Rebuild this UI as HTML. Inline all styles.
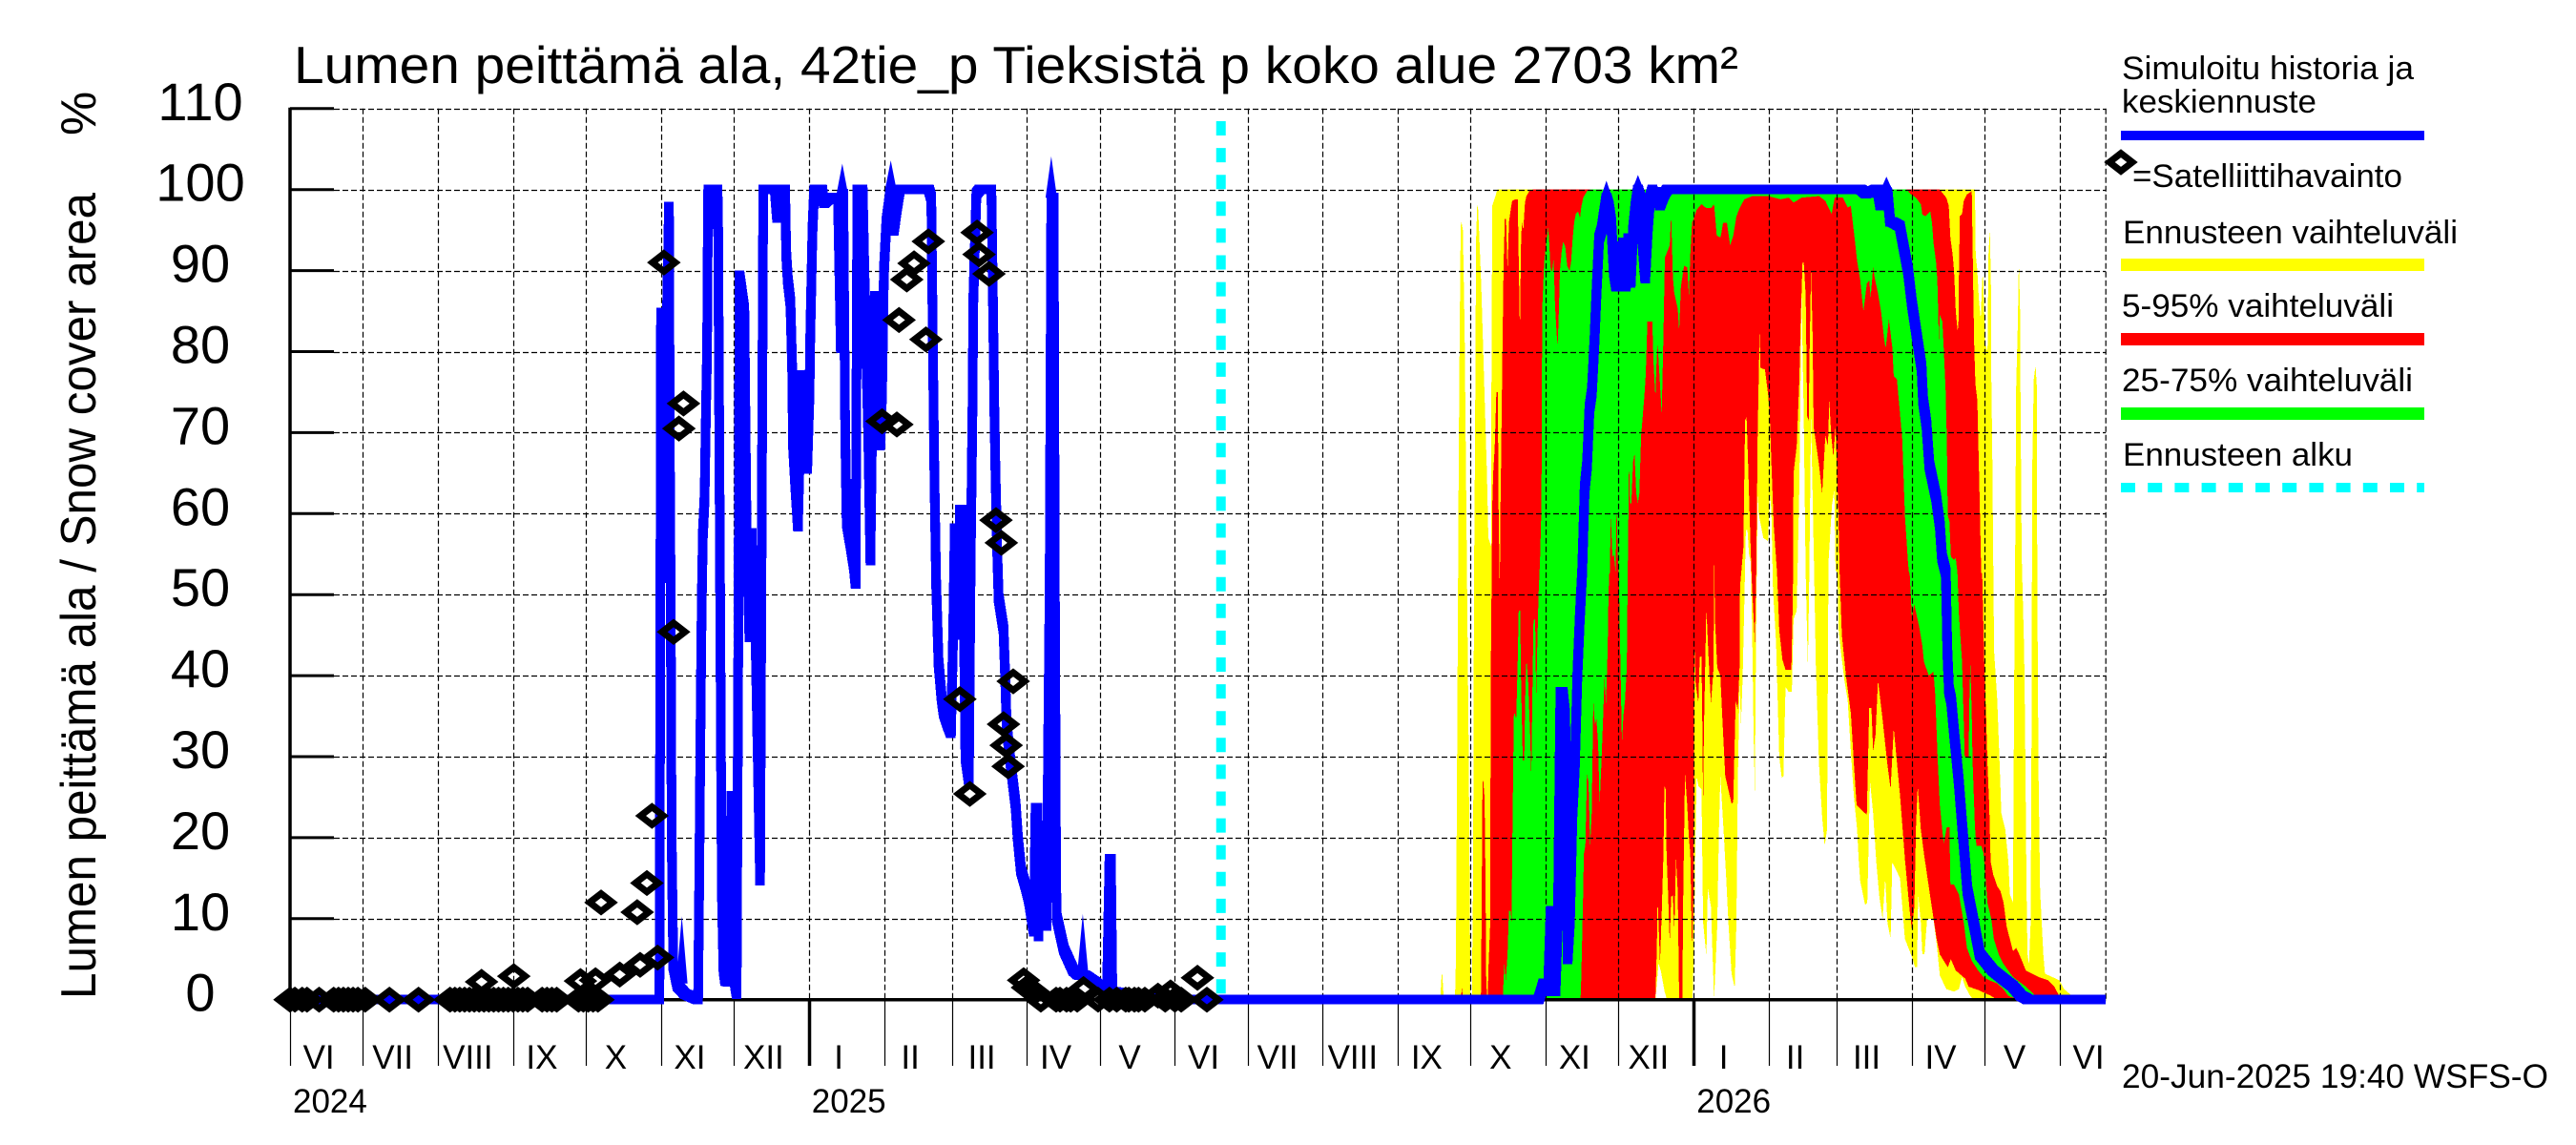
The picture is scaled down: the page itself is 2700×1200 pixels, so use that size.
<!DOCTYPE html>
<html lang="fi">
<head>
<meta charset="utf-8">
<title>Lumen peittämä ala</title>
<style>
html,body{margin:0;padding:0;background:#fff;}
svg{display:block;}
text{font-family:"Liberation Sans",sans-serif;fill:#000;}
</style>
</head>
<body>
<svg id="chart" xmlns="http://www.w3.org/2000/svg" width="2700" height="1200" viewBox="0 0 2700 1200">
  <rect x="0" y="0" width="2700" height="1200" fill="#fff"/>
  <g id="bands"></g>
  <g id="grid"></g>
  <g id="axes"></g>
  <g id="series"></g>
  <g id="markers"></g>

  <text x="308" y="87" font-size="55" textLength="1514" lengthAdjust="spacingAndGlyphs">Lumen peittämä ala, 42tie_p Tieksistä p koko alue 2703 km²</text>
  <text transform="translate(100,1047) rotate(-90)" font-size="52" textLength="845" lengthAdjust="spacingAndGlyphs">Lumen peittämä ala / Snow cover area</text>
  <text transform="translate(100,142) rotate(-90)" font-size="52">%</text>

  <g>
    <text x="2224" y="83" font-size="34" textLength="306" lengthAdjust="spacingAndGlyphs">Simuloitu historia ja</text>
    <text x="2224" y="118" font-size="34" textLength="204" lengthAdjust="spacingAndGlyphs">keskiennuste</text>
    <rect x="2223" y="137" width="318" height="10" fill="#0000ff"/>
    <path d="M2211 170 L2223 160.7 L2235 170 L2223 179.3 Z" fill="none" stroke="#000" stroke-width="7"/>
    <text x="2235" y="196" font-size="34" textLength="283" lengthAdjust="spacingAndGlyphs">=Satelliittihavainto</text>
    <text x="2225" y="255" font-size="34" textLength="351" lengthAdjust="spacingAndGlyphs">Ennusteen vaihteluväli</text>
    <rect x="2223" y="271" width="318" height="13" fill="#ffff00"/>
    <text x="2224" y="332" font-size="34" textLength="285" lengthAdjust="spacingAndGlyphs">5-95% vaihteluväli</text>
    <rect x="2223" y="349" width="318" height="13" fill="#ff0000"/>
    <text x="2224" y="410" font-size="34" textLength="305" lengthAdjust="spacingAndGlyphs">25-75% vaihteluväli</text>
    <rect x="2223" y="427" width="318" height="13" fill="#00ff00"/>
    <text x="2225" y="488" font-size="34" textLength="241" lengthAdjust="spacingAndGlyphs">Ennusteen alku</text>
    <line x1="2223" y1="511" x2="2541" y2="511" stroke="#00ffff" stroke-width="10" stroke-dasharray="15 13.2"/>
  </g>

  <text x="2224" y="1140" font-size="35" textLength="447" lengthAdjust="spacingAndGlyphs">20-Jun-2025 19:40 WSFS-O</text>
</svg>

<script>
// ---------- axis data ----------
const yTickValues = [0,10,20,30,40,50,60,70,80,90,100,110];
const yTickLabels = ["0","10","20","30","40","50","60","70","80","90","100","110"];
const monthLabels = ["VI","VII","VIII","IX","X","XI","XII","I","II","III","IV","V","VI","VII","VIII","IX","X","XI","XII","I","II","III","IV","V","VI"];
const monthStartDays = [0,30,61,92,122,153,183,214,245,273,304,334,365,395,426,457,487,518,548,579,610,638,669,699,730,760];
const yearLabels = ["2024","2025","2026"];
const yearStartDays = [0,214,579];
const lastDay = 749;
const forecastStartDay = 384;

// ---------- simulated history (day since 1 Jun 2024, percent) ----------
const historyDays = [0,152.4,153,154.5,155.5,156.3,156.8,157,157.4,158.1,159.8,163,167.7,168.3,168.7,169.4,169.8,170.3,171,171.6,172,172.3,172.5,174.4,176.3,176.6,177.9,178.2,178.8,179.5,180.8,182.1,183,184.2,185,185.4,187.4,188.3,189.5,190.4,191.5,192,193.9,195.2,200,200.9,202,204.2,204.7,205.3,206.4,207.2,207.4,208.4,209.5,211,212,213.3,214.3,214.6,215.5,216.2,219.5,220.2,222.8,224.5,226,227.2,228.2,229,229.6,231.3,232.6,233.3,234,236.2,237.2,238.5,239.4,240.5,241.2,242,242.5,243.5,244.2,245,246,247.8,249,250.3,251.5,263.5,264.5,265.2,265.8,266.5,266.9,267.5,268.7,269.6,271.3,272.6,273.5,274.2,275.5,276.3,277.4,278.6,280,280.8,281.6,281.8,283.1,284.4,289.3,290,290.5,291,291.7,292.3,294.3,295,295.6,296.9,299.3,300.2,301.5,303.5,304.8,306.8,307.5,308.3,308.7,309.5,311,312,313.3,314,315,315.5,316,316.3,319.2,323.1,325,326,328,329,332,334,336,337,338,338.6,339.2,344,350,355,360,384];
const historyValues = [0,0,84.8,52,84.8,97.9,60,52,20,4.2,1.7,0.7,0.1,0,12,36,49,57.4,62,73,80,93,100,95.7,100,96,23.4,12,3.8,2.3,2.2,25.2,3,0.7,50,89.4,85.1,58.2,44.7,57.6,44.7,44.7,14.7,100,100,96.5,100,100,92,88.9,86,77,69,63.7,58.4,77.1,70,65.5,75,82,95,100,100,98.3,99,99,99,80.4,99.5,70,59,56,53.5,51.3,100,100,86,70,54.2,80,86.9,86.9,80,68.4,75,90,96,100,94.9,97.7,100,100,99,79.4,64.5,51.5,47.6,41.7,37.4,35.4,33.9,32.9,45,58.2,45,60.5,60.5,30,27,55,75,86,99.5,100,100,85,73,65,55.5,49.6,45.7,39.8,33.9,30,24,20,16,13.9,12.3,8.4,23.7,23.7,7.8,21.5,9.1,9.1,50,99,99,50,14,10.1,6.2,3.6,3.1,3,3,2.8,2.2,1.6,1.2,1.2,17.4,17.4,1,0.8,0.5,0.2,0,0];

// ---------- forecast median ----------
const forecastDays = [384,515,516,517,518,519,520,521,522,523,524,525,526,527,528,529,530,531,532,533,534,535,536,537,538,539,540,541,542,543,544,545,546,547,548,549,550,551,552,553,554,555,556,557,558,559,560,561,562,563,564,565,566,567,568,648,650,652,654,655,656,657,658,659,660,661,664,667.4,669,671,673,673.6,675,676.2,679,680.5,681.4,683,683.6,684.3,685.2,686.4,688.3,689.8,691.9,694.5,697,702.4,707,710.5,714,717,747];
const forecastValues = [0,0,1,2,1,2,11,11,1,10,38,38,35,5,10,23,29,40,47,53,63,66,73,75,81,88,94,95,97,99,98,96,90,88,93,89,93.5,88,94,88.5,95,98,100,99,93,89,95,99,100,98.5,99.7,98,98.8,99.5,100,100,99.5,99.7,100,99.7,98,99,100,99.5,96,96,95.5,90,86,82,78,74,71,66,62,58.6,54.7,52.7,43.3,38.2,37,33,27,21.3,13.5,9.5,5.6,3.6,2.5,1.7,0.5,0,0];

// ---------- narrow peaks on the median line ----------
const peakDays = [161.6,227.8,247.8,314,327,543,556,658.5];
const peakTopValues = [10.3,103.2,103.6,104.1,10.6,101.1,101.8,101.6];
const peakBaseValues = [2,99.5,100,99,3,99,100,100];

// ---------- forecast range: maximum ----------
const maxDays = [474.4,475,475.3,475.9,480.5,480.9,481.4,482.1,482.5,482.9,483.2,483.8,484.5,485.4,485.8,486.2,486.7,486.9,487.5,488,488.4,488.8,489.2,489.7,490,490.6,491.4,493,493.7,494.3,495.4,495.6,495.9,497,498,695,695.3,696,696.6,697.4,698,698.4,699.2,700.2,700.6,701.2,701.6,701.8,702.1,702.6,702.9,704.2,705.2,705.9,707.5,708.8,709.4,710.7,711.1,711.4,711.7,712,712.7,713.1,713.6,713.8,714.3,715.3,715.7,716.3,716.7,717.3,718,718.4,718.6,719.3,720,720.6,720.7,721.2,721.9,723.2,723.9,729.8,731.8,735,736];
const maxValues = [0,3,3.2,0,0,5,29,68,83,95.5,96,95,83,55,43,31,9,0,0,15,52,68,93.7,98,98,94,88,72,65,57,56,78,98,99,100,100,92,90,86.5,84,89,89.4,81,80,92,95,88,75,70,53,43,37,29,23,21,17,13,12,34,49,58,75.5,83.7,91.4,85,74,55,43,33,13.4,5.6,4.4,9.5,37,65,76.6,78.3,75.5,52.7,28.4,13.4,5.6,3.2,2.4,1.3,0.5,0];

// ---------- forecast range: minimum ----------
const minDays = [474.4,563.2,564.5,565.5,567,568,578.5,579.2,579.6,580.2,580.9,582.2,582.9,584.2,584.8,586.1,587.4,588.7,589.4,590,591.3,592.4,593.3,594.6,595.9,596.6,597.2,597.9,598.5,599.2,599.9,600.5,601.2,601.8,602.5,603.1,603.7,604.2,604.6,605,605.4,605.8,607.7,609.7,610.4,611,611.7,613,614.3,615.3,616,616.9,618.2,619.5,620.2,621.5,622.6,623.5,624.4,625.2,626.1,626.7,627.4,628.7,629.4,630.7,632,633,634,634.6,636,637,637.5,638.3,638.8,639.9,641.2,642.5,643.8,645.1,646.4,647.1,647.7,649.7,650.6,651.7,653,654.3,655.6,656.9,658,658.9,660.2,660.9,664.1,666.1,668.1,669.4,670.3,671.1,671.6,672.7,673.3,674.2,675.3,677.9,679.2,680.5,683.2,686.4,688.4,689.7,691,693,694.3,736];
const minValues = [0,0,4.5,3.5,1,0,0,7.5,18,27.6,26.4,26,9.5,5.4,13.8,11.5,0,9,21,27.6,21,15,9.5,3.2,1.5,9.5,27,39,34,40,49,58,58,55,54,45.6,33,25.6,41,52.7,62.5,60,57,56.6,62.5,60.5,50.7,44,30,27.4,27.6,38.6,38,38,47,48,63.7,87,72,52.7,41,52.7,72,52.7,41,29,22.5,19,21,54,61,63,53,52.7,45.6,42.5,39.3,37,30.7,25,21,17,14.6,11.7,12,27,23,17,12.6,10,15,9.5,7.5,17,15,7.5,6,5,4,4,13,9.5,5.6,5.6,10,10,7,3,1.3,1,1.3,2.8,1.6,0.5,0,0];

// ---------- forecast range: 95th percentile ----------
const p95Days = [483,483.3,484,491,491.3,491.7,491.9,492.2,492.7,493.1,493.4,493.8,494,494.3,495,495.3,495.6,495.9,496.3,496.9,497.2,497.6,498.2,498.5,499,499.3,499.5,499.8,500.2,500.6,501.1,501.6,502.2,502.8,503.5,504.1,505.4,506.4,506.9,507.2,507.4,507.7,508.1,508.7,509.4,510,511.4,512.7,680.5,683.2,684.2,684.9,685.8,686.4,687.1,687.8,688.2,688.4,688.8,689.7,690.4,691.7,693.7,694.3,694.7,695.2,696,696.9,697.6,698,698.6,698.9,699.6,700.2,700.9,701.5,702.6,704.2,705.5,706.8,708.1,709.4,710.7,712,713.3,716,718.6,721.2,725.2,727.8,729.7,730.4];
const p95Values = [0,1.5,0,0,1,19,27,27,25,15,3,0,0,3.6,9,41,50,61,65,68,71,75,75,61,50,61,65,73,82,91,96.5,96.3,90,96,97.5,98.6,98.8,98.8,90,84,84,92.7,96,95,98.4,99.2,99.9,100,100,99,98,94,92,90,85,82.7,83,89,96.7,97,98.6,99.4,99.8,88,81,76,74,62.5,52.7,52.7,45,41,35,29,24,17,15.4,14,13.4,12,9,7.5,6,6.4,5.6,3.6,3.2,2.8,2.4,1.6,0.5,0];

// ---------- forecast range: 5th percentile ----------
const p5Days = [483,563.2,563.8,564.1,564.5,565.1,565.8,566.5,566.9,567.4,567.8,568.4,569.1,569.7,570.4,571,571.7,572.4,573,574.3,574.7,575.4,576.3,577,577.6,578.3,578.9,579.3,579.8,580.9,581.5,582.2,582.6,582.9,583.2,584.2,585.1,586.1,587.2,587.4,587.8,588.7,590,590.7,592,594.6,595.3,596.3,597.2,597.9,598.1,599.5,600.2,600.8,601.4,602.5,602.9,604.2,604.8,605.4,606.2,606.5,608.4,609.7,610.4,611,612,613.4,614.3,615.6,616.9,619.3,619.9,620.2,621.5,622.6,623.1,623.9,624.4,625.2,625.8,626.5,626.7,627.4,628,628.5,630.7,632,633.3,634.4,634.9,635.7,636.6,637.5,638.6,639.2,640.1,641.8,643.8,645.1,646.2,650.4,651.4,652.3,653,654,655,656.9,658.9,660.2,661.5,664.1,666.1,668.1,669,670,670.7,671.4,672.7,674,676.6,679.2,680.5,683.8,685.1,687.1,691,692.4,696.3,701.5,704.2,730.4];
const p5Values = [0,0,6.4,12.4,9.5,4.4,10.7,18,26.4,26,18,13.4,7,12.7,12.9,8.7,17.4,13.4,0,0,13.4,28,24,20,18,6,13.4,43.9,39,36.6,42.3,42.4,33,23.3,33,48.4,42.5,36.6,41,54.9,46.8,41,40,35.4,27.6,24.2,24.4,36.8,35.8,41,51,55.8,71.5,72,66.4,55.4,52,44,52.7,70,83,78,77.8,74.7,72,66.4,58.6,52.7,45.6,42,40.7,40.7,50,65,68.4,76.6,83.7,91,91,87,72,71.5,78,90,83,70.7,66,62.5,69.6,68.4,74,69.8,67,70.7,61,52.7,45,40,35.4,29,24,22.8,36,36,30.7,32.7,39.4,34.6,29,26,33.5,25.2,17.4,11,8.7,11.5,21.3,26.4,21,18,12.7,7.5,5.6,4,5,3.6,2.6,1.6,1.2,0.5,0,0];

// ---------- forecast range: 75th percentile ----------
const p75Days = [500.2,500.9,501.5,502.2,502.8,503.5,503.9,504.1,504.5,504.8,505.1,505.8,506.4,506.8,507.4,507.8,508.5,509.1,509.5,510,510.7,511.1,511.6,512,512.4,512.9,513.6,514,514.5,515,515.4,515.6,516.2,516.3,516.6,517.3,517.9,519,519.5,519.9,520.5,521.2,521.8,522.5,522.9,523.4,523.8,524.5,525.1,526,526.8,527.8,528.4,529.1,529.7,530.4,531.3,532.1,532.6,533.4,535,536.3,666.8,668.7,670.7,672.7,673.3,674.6,676.6,677.3,677.9,679,679.5,679.9,680.1,680.5,681.6,682.1,682.5,682.9,683.2,683.4,683.8,684.5,685.1,686.4,687.1,687.8,688.4,689.7,690.8,692.4,692.7,693.1,693.7,694,695,695.6,697.6,698.6,699.6,700.2,701.8,702.8,704.8,706.8,710.7,716,719.9,721.2];
const p75Values = [0,4.4,2.4,5.6,11,10.9,9.5,17,27,35,35.4,34.6,42,48,48,39,29.5,29.5,37,42,39.4,36,32,27,36.6,46.8,47,37,43.7,50,52.7,54,61,73.7,86,91,92.7,95.3,93,90.4,89.8,91.4,85.7,82,80.8,85.5,90,92.3,93.5,93,90.6,90,91,94,96,97,97.3,96.5,97.8,99,99.8,100,100,99.4,99,98.2,96.9,96.7,97.3,95.9,93.5,91,88.8,84.5,81,84.5,83.7,80.6,78,75.5,71.5,69.6,59.8,59,54.7,54.3,54.5,52.7,47.6,41.7,30,30,37,41.5,35,29.5,21.3,19,19,18,14.2,11.9,9.9,7.5,5.6,4.4,2.8,1.6,0.5,0.1];

// ---------- forecast range: 25th percentile ----------
const p25Days = [500.2,532.3,532.6,533.3,533.7,534.3,535,535.6,536.3,536.9,537.6,538.2,538.9,539.6,540.2,540.9,541.5,542.2,542.8,543.5,543.9,544.2,544.4,544.8,545.5,546.1,546.8,547.2,547.7,548.1,548.7,549.4,550,550.7,551.4,551.8,552,552.3,552.7,553.3,554,554.6,555.3,556,556.6,557.3,558.6,559.2,559.9,561.9,562.5,563.2,563.6,564.1,564.9,565.8,566.5,567.1,569.1,569.7,570.4,571,572.4,573,573.7,575,576.3,577,577.6,578.3,578.9,580.2,582.2,584.2,586.1,587.4,588.5,590.1,591.1,592.7,594,595.3,596.6,597.9,599.9,603.2,609.7,614.9,618.2,620.2,623.5,630.7,633.3,635.9,637.2,640.5,642.5,643.8,645.1,646.4,647.7,649,650.4,651.4,652,653,653.6,655,656.3,657.6,658.2,659.5,660.9,661.5,662.8,664.1,665,666.1,667.4,667.8,668.1,669,670,672,673.3,674,676,677.9,678.6,679.5,680.5,682.1,683.4,684.5,684.9,686.4,688.4,690.4,691.7,693.7,696.3,698.9,700.9,704.2,706.8,708.7,710,721.2];
const p25Values = [0,0,2.4,11.5,18,19,28,26.8,19,23,37,34,34.6,31.5,24,29,33.9,39.7,36.6,42.9,50.3,52.7,52.7,59.6,54.6,55,52.7,61,54.6,52.7,43,31.5,35,37,41,52.7,57.4,66.8,61.3,61.3,66.4,67.4,62.5,61.3,62.5,69.6,74.3,77,83.7,83.7,78.2,74.3,78.2,81,77,72.3,82,91.6,93.1,96.9,89.2,87.2,85.3,82.5,88,90.6,90.4,86.9,92,96,96.3,97.5,98.2,97.7,97.7,98.2,94.3,94.1,95.9,95.9,93.1,94.3,96.7,97.7,98.8,99.2,99.2,98.8,99,98.4,99,99.2,98.6,97,99,99,97.8,98,94.7,91.2,88.8,85,88.4,88.8,86.7,90.4,89.2,87.2,84.9,81.4,80.4,84,80.6,77,76.6,72.3,69.2,59.8,53.9,52.7,52.7,47.2,48.8,46,43.7,41.7,40,40.5,37.8,30.7,24,19.3,21.3,21.3,14.2,14.2,13,9.5,6.4,4.8,3.6,2.7,2.4,2,1.3,0.5,0.3,0.1];

// ---------- satellite observations ----------
const obsDays = [0,2,5,7,12,18,20,22,24,26,28,31,41,53,66,68,70,72,74,76,78,79,80,82,84,86,88,90,92,92.3,94,96,98,104,106,108,110,119,119.8,121,123,125,126,127,128.3,136,143.2,144.4,147.2,149.3,151.6,154.2,158.2,160.4,162.3,244.2,250.3,251.2,254.4,257.4,262.3,263.3,276.3,280.4,283.4,284.2,288.3,291.2,293.4,294.3,295.4,296.2,298.3,302.6,304.2,307,309.7,316,317.6,320.3,322,324.7,327.3,333.3,338,341,344.7,346,348.3,350,352.6,358,361,363.2,365,367.6,374.3,378.2];
const obsValues = [0,0,0,0,0,0,0,0,0,0,0,0,0,0,0,0,0,0,0,0,0,2.2,0,0,0,0,0,0,0,2.9,0,0,0,0,0,0,0,0,2.3,0,0,0,2.4,0,12,3.1,10.8,4.3,14.4,22.7,5.2,91,45.4,70.5,73.6,71.4,71,83.9,88.9,90.9,81.5,93.6,37.1,25.4,94.7,92,89.6,59.2,56.4,34,31.4,28.8,39.3,2.4,1.5,0.9,0,0,0,0,0,0,1.3,0,0,0,0,0,0,0,0,0.5,0,0.9,0,0,2.7,0];

// ---------- axis functions ----------
const xAt = function (day) { return 304 + 2.541 * day; };
const yAt = function (pct) { return 1047.7 - 8.49 * pct; };
const NS = "http://www.w3.org/2000/svg";
const bandsG = document.getElementById("bands");
const gridG = document.getElementById("grid");
const axesG = document.getElementById("axes");
const seriesG = document.getElementById("series");
const markersG = document.getElementById("markers");

function make(tag, attrs, parent) {
  const el = document.createElementNS(NS, tag);
  Object.keys(attrs).forEach(function (k) { el.setAttribute(k, attrs[k]); });
  parent.appendChild(el);
  return el;
}
function edge(days, values) {
  return days.map(function (d, i) { return xAt(d).toFixed(1) + "," + yAt(values[i]).toFixed(1); });
}
function bandPoints(upD, upV, loD, loV) {
  return edge(upD, upV).concat(edge(loD, loV).reverse()).join(" ");
}
// The line is drawn with a square 10 px pen: each segment is the hexagon swept by that square.
function squarePenPath(days, values) {
  const h = 5;
  let out = "";
  for (let i = 0; i + 1 < days.length; i++) {
    const x1 = xAt(days[i]), y1 = yAt(values[i]), x2 = xAt(days[i + 1]), y2 = yAt(values[i + 1]);
    let pts;
    if (y2 < y1) {
      pts = [[x1-h,y1-h],[x2-h,y2-h],[x2+h,y2-h],[x2+h,y2+h],[x1+h,y1+h],[x1-h,y1+h]];
    } else {
      pts = [[x1-h,y1-h],[x1+h,y1-h],[x2+h,y2-h],[x2+h,y2+h],[x2-h,y2+h],[x1-h,y1+h]];
    }
    out += "M" + pts.map(function (p) { return p[0].toFixed(1) + " " + p[1].toFixed(1); }).join("L") + "Z";
  }
  return out;
}

// ---------- bands ----------
const yellowBand = make("polygon", {points: bandPoints(maxDays, maxValues, minDays, minValues), fill: "#ffff00", "shape-rendering": "crispEdges"}, bandsG);


const redBand = make("polygon", {points: bandPoints(p95Days, p95Values, p5Days, p5Values), fill: "#ff0000", "shape-rendering": "crispEdges"}, bandsG);


const greenBand = make("polygon", {points: bandPoints(p75Days, p75Values, p25Days, p25Values), fill: "#00ff00", "shape-rendering": "crispEdges"}, bandsG);



// ---------- grid ----------
yTickValues.forEach(function (v) {
  if (v === 0) return;
  const y = Math.round(yAt(v)) + 0.5;
  const h = make("line", {x1: 350, y1: y, x2: xAt(lastDay), y2: y, stroke: "#000", "stroke-width": 1.2, "stroke-dasharray": "6 3"}, gridG);
  
  
});
monthStartDays.slice(1, 25).forEach(function (d) {
  const x = Math.round(xAt(d)) + 0.5;
  const v = make("line", {x1: x, y1: yAt(110), x2: x, y2: yAt(0), stroke: "#000", "stroke-width": 1.2, "stroke-dasharray": "6 3"}, gridG);
  
  
});
const gridRight = make("line", {x1: xAt(lastDay), y1: yAt(110), x2: xAt(lastDay), y2: yAt(0), stroke: "#000", "stroke-width": 1.2, "stroke-dasharray": "6 3"}, gridG);



// ---------- axes ----------
const yAxisLine = make("line", {x1: 304, y1: yAt(110) - 1, x2: 304, y2: yAt(0), stroke: "#000", "stroke-width": 3.5}, axesG);


const xAxisLine = make("line", {x1: 304, y1: yAt(0), x2: xAt(lastDay), y2: yAt(0), stroke: "#000", "stroke-width": 3.5}, axesG);



yTickValues.forEach(function (v, i) {
  if (v !== 0) {
    const t = make("line", {x1: 304, y1: yAt(v), x2: 350, y2: yAt(v), stroke: "#000", "stroke-width": 3}, axesG);
    
    
  }
  const lab = make("text", {x: 210, y: yAt(v) + 12, "font-size": 56, "text-anchor": "middle"}, axesG);
  lab.textContent = yTickLabels[i];
  
  
});

monthLabels.forEach(function (label, i) {
  const d = monthStartDays[i];
  const isYear = yearStartDays.indexOf(d) > 0;
  const x = Math.round(xAt(d)) + 0.5;
  const tick = make("line", {x1: x, y1: yAt(0), x2: x, y2: 1117, stroke: "#000", "stroke-width": isYear ? 3.5 : 1.2}, axesG);
  
  
  const mid = (xAt(d) + xAt(monthStartDays[i + 1])) / 2 - 8;
  const lab = make("text", {x: mid, y: 1120, "font-size": 35, "text-anchor": "middle"}, axesG);
  lab.textContent = label;
  
  
});

yearLabels.forEach(function (label, i) {
  const lab = make("text", {x: xAt(yearStartDays[i]) + 3, y: 1166, "font-size": 35}, axesG);
  lab.textContent = label;
  
  
});

// ---------- series ----------
const historyLine = make("path", {d: squarePenPath(historyDays, historyValues), fill: "#0000ff", "fill-rule": "nonzero", "shape-rendering": "crispEdges"}, seriesG);


const forecastLine = make("path", {d: squarePenPath(forecastDays, forecastValues), fill: "#0000ff", "fill-rule": "nonzero", "shape-rendering": "crispEdges"}, seriesG);



peakDays.forEach(function (d, i) {
  const x = xAt(d);
  const base = yAt(peakBaseValues[i]);
  const top = yAt(peakTopValues[i]);
  const peak = make("polygon", {points: (x - 6) + "," + base + " " + x + "," + top + " " + (x + 6) + "," + base, fill: "#0000ff"}, seriesG);
  
  
});

const startLine = make("line", {x1: xAt(forecastStartDay), y1: 127, x2: xAt(forecastStartDay), y2: yAt(0), stroke: "#00ffff", "stroke-width": 10, "stroke-dasharray": "15 13.1"}, seriesG);



// ---------- satellite markers ----------
obsDays.forEach(function (d, i) {
  const cx = xAt(d);
  const cy = yAt(obsValues[i]);
  const m = make("path", {d: "M" + (cx - 12) + " " + cy + " L" + cx + " " + (cy - 9.3) + " L" + (cx + 12) + " " + cy + " L" + cx + " " + (cy + 9.3) + " Z", fill: "none", stroke: "#000", "stroke-width": 7}, markersG);
  
  
});
</script>
</body>
</html>
